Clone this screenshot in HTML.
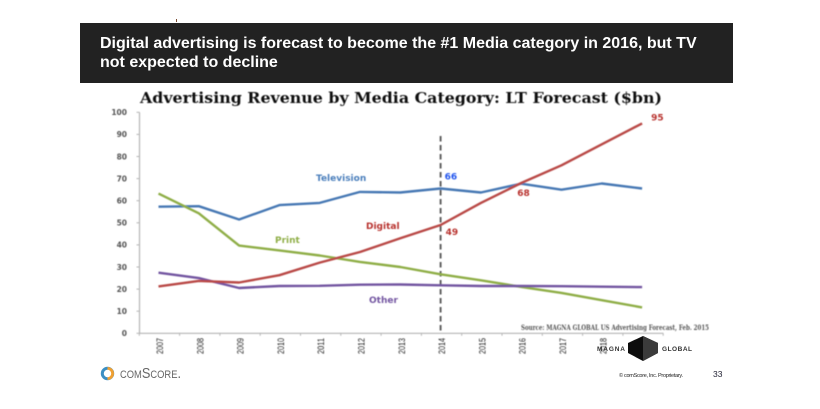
<!DOCTYPE html>
<html lang="en">
<head>
<meta charset="utf-8">
<title>Advertising Revenue by Media Category</title>
<style>
html,body{margin:0;padding:0;background:#fff;}
body{width:820px;height:409px;overflow:hidden;position:relative;font-family:"Liberation Sans",sans-serif;}
#header{position:absolute;left:80px;top:23px;width:653px;height:60px;background:#222;color:#fff;font-weight:bold;font-size:16px;line-height:19px;box-sizing:border-box;padding:11px 0 0 20px;}
#tick-mark{position:absolute;left:176px;top:19px;width:1px;height:3px;background:#7a4a30;}
svg{position:absolute;left:0;top:0;}
</style>
</head>
<body>
<div id="tick-mark"></div>
<div id="header">Digital advertising is forecast to become the #1 Media category in 2016, but TV<br>not expected to decline</div>
<svg id="chart" width="820" height="409" viewBox="0 0 820 409" xmlns="http://www.w3.org/2000/svg">
  <defs>
    <filter id="soft" x="-5%" y="-5%" width="110%" height="110%"><feGaussianBlur stdDeviation="0.4"/></filter>
    <filter id="softer" x="-5%" y="-5%" width="110%" height="110%"><feGaussianBlur stdDeviation="0.3"/></filter>
  </defs>
  <g id="plot" filter="url(#soft)"></g>
  <g id="footer">
    <g filter="url(#softer)">
      <circle cx="107.5" cy="373.5" r="5.2" fill="none" stroke="#3a8fc4" stroke-width="3"/>
      <path d="M107.5 367 A6.5 6.5 0 0 1 107.5 380 Z" fill="#f0a030"/>
      <path d="M107.5 369.8 A3.7 3.7 0 0 1 107.5 377.2 Z" fill="#fff"/>
      <text x="120" y="378" font-family="'Liberation Sans',sans-serif" font-size="15" fill="#666" style="font-variant:small-caps" textLength="61" lengthAdjust="spacingAndGlyphs">comScore.</text>
    </g>
    <g filter="url(#softer)">
      <polygon points="643,336 658,343 658,353 643,361 628,353 628,343" fill="#111"/>
      <polygon points="643,336 658,343 658,353 643,361" fill="#3a3a3a"/>
      <text x="597" y="351" font-family="'Liberation Sans',sans-serif" font-size="6.5" font-weight="bold" fill="#333" textLength="28">MAGNA</text>
      <text x="662" y="351" font-family="'Liberation Sans',sans-serif" font-size="6.5" font-weight="bold" fill="#333" textLength="30">GLOBAL</text>
    </g>
    <text x="619" y="377" font-family="'Liberation Sans',sans-serif" font-size="5.5" fill="#222" textLength="64">© comScore, Inc. Proprietary.</text>
    <text x="713" y="377" font-family="'Liberation Sans',sans-serif" font-size="8.5" fill="#223">33</text>
  </g>
</svg>
<script>
const categories = [2007,2008,2009,2010,2011,2012,2013,2014,2015,2016,2017,2018,2019];
const tickLabels = ['2007','2008','2009','2010','2011','2012','2013','2014','2015','2016','2017','2018'];
const yTicks = [0,10,20,30,40,50,60,70,80,90,100];
const television = [57.3,57.5,51.5,58,59,64,63.7,65.5,63.7,67.7,65,67.8,65.5];
const digital = [21.2,23.7,23,26.3,32,36.8,43,49,59,68,76,85.5,95];
const print = [63.2,54.3,39.7,37.5,35.2,32.3,30,26.7,24,21,18.3,15,11.7];
const other = [27.4,25,20.5,21.4,21.5,22,22.1,21.7,21.4,21.4,21.3,21.1,20.9];
const markerYear = 2014;
const markerTop = 89;

const NS = 'http://www.w3.org/2000/svg';
const plot = document.getElementById('plot');
const x = year => 158.5 + (year - categories[0]) * 40.3;
const y = value => 333.3 - value * 2.21;
const SANS = '"DejaVu Sans","Liberation Sans",sans-serif';
const SERIF = '"DejaVu Serif","Liberation Serif",serif';

function make(tag, attrs, text) {
  const el = document.createElementNS(NS, tag);
  for (const k in attrs) el.setAttribute(k, attrs[k]);
  if (text !== undefined) el.textContent = text;
  plot.appendChild(el);
  return el;
}

const title = make('text', {x:140, y:103, 'font-family':SERIF, 'font-size':15, 'font-weight':'bold', fill:'#111', textLength:522, lengthAdjust:'spacingAndGlyphs'}, 'Advertising Revenue by Media Category: LT Forecast ($bn)');



const yAxis = make('line', {x1:139.5, x2:139.5, y1:y(100), y2:y(0), stroke:'#b5b5b5', 'stroke-width':1.2});



const xAxis = make('line', {x1:139.5, x2:139.5 + categories.length * 40.3, y1:y(0), y2:y(0), stroke:'#b5b5b5', 'stroke-width':1.2});



yTicks.forEach(t => {
  const tick = make('line', {x1:136.5, x2:139.5, y1:y(t), y2:y(t), stroke:'#b5b5b5', 'stroke-width':1});
  
  
  const label = make('text', {x:127, y:y(t) + 2.8, 'text-anchor':'end', 'font-family':SANS, 'font-size':7.5, 'font-weight':'bold', fill:'#555'}, String(t));
  
  
});

categories.concat([categories[categories.length - 1] + 1]).forEach(c => {
  const px = x(c) - 19.2;
  const tick = make('line', {x1:px, x2:px, y1:y(0), y2:y(0) + 2.5, stroke:'#b5b5b5', 'stroke-width':1});
  
  
});

tickLabels.forEach(t => {
  const px = x(Number(t)) + 4.5;
  const label = make('text', {x:px, y:346, transform:'rotate(-90 ' + px + ' 346)', 'text-anchor':'middle', 'font-family':'"Liberation Sans",sans-serif', 'font-size':9, fill:'#222', textLength:16, lengthAdjust:'spacingAndGlyphs'}, t);
  
  
});

const marker = make('line', {x1:x(markerYear), x2:x(markerYear), y1:markerTop + 47, y2:y(0), stroke:'#5a5a5a', 'stroke-width':1.9, 'stroke-dasharray':'5.5 3.5'});



function path(values) {
  return values.map((v, i) => (i ? 'L' : 'M') + x(categories[i]).toFixed(1) + ' ' + y(v).toFixed(1)).join(' ');
}

const lineTelevision = make('path', {d:path(television), fill:'none', stroke:'#4678b4', 'stroke-width':2.4, 'stroke-linejoin':'round'});



const linePrint = make('path', {d:path(print), fill:'none', stroke:'#8fae47', 'stroke-width':2.4, 'stroke-linejoin':'round'});



const lineOther = make('path', {d:path(other), fill:'none', stroke:'#7255a0', 'stroke-width':2.4, 'stroke-linejoin':'round'});



const lineDigital = make('path', {d:path(digital), fill:'none', stroke:'#b94a46', 'stroke-width':2.4, 'stroke-linejoin':'round'});



function seriesLabel(text, px, py, color, name) {
  const el = make('text', {x:px, y:py, 'font-family':SANS, 'font-size':9, 'font-weight':'bold', fill:color}, text);
  
  
}
seriesLabel('Television', 316, 181, '#4a7ebb', 'television-label');
seriesLabel('Digital', 366, 229, '#b8322e', 'digital-label');
seriesLabel('Print', 275, 243, '#8fae47', 'print-label');
seriesLabel('Other', 369, 303, '#7255a0', 'other-label');

function valueLabel(series, year, dx, dy, color, name) {
  const v = series[categories.indexOf(year)];
  const el = make('text', {x:x(year) + dx, y:y(v) + dy, 'font-family':SANS, 'font-size':9, 'font-weight':'bold', fill:color}, String(Math.round(v)));
  
  
}
valueLabel(television, 2014, 4, -9, '#2255ee', 'television-2014-value');
valueLabel(digital, 2014, 5, 10, '#b8322e', 'digital-2014-value');
valueLabel(digital, 2016, -4, 13, '#b8322e', 'digital-2016-value');
valueLabel(digital, 2019, 9, -3, '#b8322e', 'digital-2019-value');

const source = make('text', {x:521, y:330, 'font-family':SERIF, 'font-size':7, 'font-weight':'bold', fill:'#555', textLength:188, lengthAdjust:'spacingAndGlyphs'}, 'Source: MAGNA GLOBAL US Advertising Forecast, Feb. 2015');


</script>
</body>
</html>
